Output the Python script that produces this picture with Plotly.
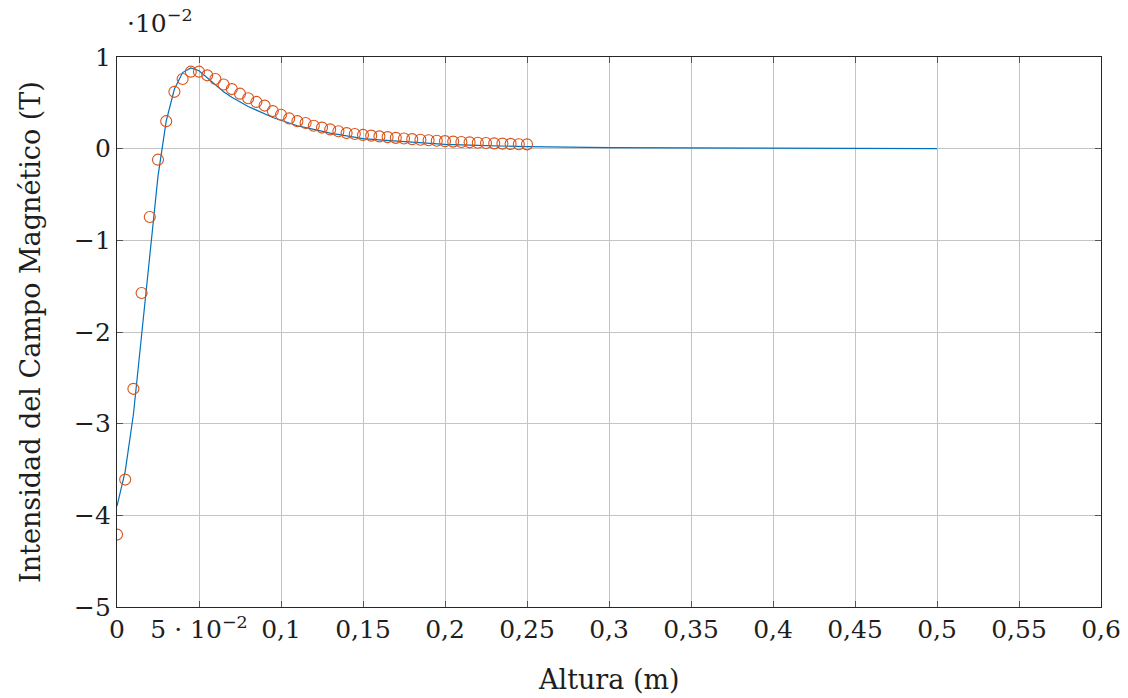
import plotly.graph_objects as go

# Measured points (circles): height (m) and field (T)
x_meas = [round(0.005 * i, 3) for i in range(51)]
b_meas = [-0.0421, -0.0361, -0.0262, -0.01575, -0.00745, -0.0012, 0.0030, 0.0062, 0.0076, 0.0084,
          0.0084, 0.0080, 0.0076, 0.0070, 0.0065, 0.0060, 0.0055, 0.0051, 0.0047, 0.0041,
          0.0037, 0.0033, 0.0030, 0.0028, 0.0025, 0.0023, 0.0021, 0.0019, 0.0017, 0.0016,
          0.0015, 0.00142, 0.00134, 0.00126, 0.00118, 0.00111, 0.00104, 0.00098, 0.00092, 0.00087,
          0.00082, 0.00077, 0.00073, 0.00069, 0.00065, 0.00061, 0.00058, 0.00055, 0.00052, 0.00049,
          0.00047]

# Theoretical curve (line)
x_theo = [0, 0.005, 0.01, 0.015, 0.02, 0.025, 0.03, 0.035, 0.04, 0.045, 0.05, 0.055, 0.06, 0.065,
          0.07, 0.075, 0.08, 0.085, 0.09, 0.095, 0.1, 0.11, 0.12, 0.13, 0.14, 0.15, 0.16, 0.18,
          0.2, 0.22, 0.25, 0.3, 0.35, 0.4, 0.45, 0.5]
b_theo = [-0.0390, -0.0352, -0.0290, -0.0205, -0.0120, -0.0030, 0.0030, 0.0065, 0.0083, 0.0088,
          0.0085, 0.0077, 0.0069, 0.0062, 0.0056, 0.0051, 0.0046, 0.0042, 0.0038, 0.0034,
          0.0031, 0.0025, 0.0021, 0.0017, 0.0014, 0.0011, 0.00095, 0.0007, 0.00047, 0.00035,
          0.00022, 0.00011, 0.00006, 0.00004, 0.000025, 0.000015]

x_ticks = [0, 0.05, 0.1, 0.15, 0.2, 0.25, 0.3, 0.35, 0.4, 0.45, 0.5, 0.55, 0.6]
x_ticktext = ["0", "5 · 10<sup>−2</sup>", "0,1", "0,15", "0,2", "0,25", "0,3", "0,35", "0,4",
              "0,45", "0,5", "0,55", "0,6"]
y_ticks = [-0.05, -0.04, -0.03, -0.02, -0.01, 0, 0.01]
y_ticktext = ["−5", "−4", "−3", "−2", "−1", "0", "1"]

FONT = "DejaVu Serif"
TXT = "#1e1e1e"

fig = go.Figure()
fig.add_trace(go.Scatter(x=x_theo, y=b_theo, mode="lines",
                         line=dict(color="#0072BD", width=1.2), showlegend=False))
fig.add_trace(go.Scatter(x=x_meas, y=b_meas, mode="markers",
                         marker=dict(symbol="circle-open", size=11,
                                     line=dict(color="#D95319", width=1.1), color="#D95319"),
                         showlegend=False))

axis_common = dict(showgrid=True, gridcolor="#c4c4c4", gridwidth=1, zeroline=False,
                   showline=True, linecolor="#262626", linewidth=1.2, mirror="ticks",
                   ticks="inside", ticklen=6, tickcolor="#555555", automargin=False,
                   tickfont=dict(family=FONT, size=25, color=TXT))

fig.update_layout(
    width=1128, height=698,
    margin=dict(l=117, r=27, t=57, b=91),
    paper_bgcolor="white", plot_bgcolor="white",
    xaxis=dict(range=[0, 0.6], tickvals=x_ticks, ticktext=x_ticktext, **axis_common),
    yaxis=dict(range=[-0.05, 0.01], tickvals=y_ticks, ticktext=y_ticktext, **axis_common),
    annotations=[
        dict(text="·10<sup>−2</sup>", xref="paper", yref="paper", x=0.008, y=1.03,
             xanchor="left", yanchor="bottom", showarrow=False,
             font=dict(family=FONT, size=25, color=TXT)),
        dict(text="Altura (m)", xref="paper", yref="paper", x=0.5, y=0, yshift=-72,
             xanchor="center", yanchor="middle", showarrow=False,
             font=dict(family=FONT, size=27, color=TXT)),
        dict(text="Intensidad del Campo Magnético (T)", xref="paper", yref="paper",
             x=0, xshift=-87, y=0.5, xanchor="center", yanchor="middle", textangle=-90,
             showarrow=False, font=dict(family=FONT, size=27, color=TXT)),
    ],
)

fig.write_html("out.html")
